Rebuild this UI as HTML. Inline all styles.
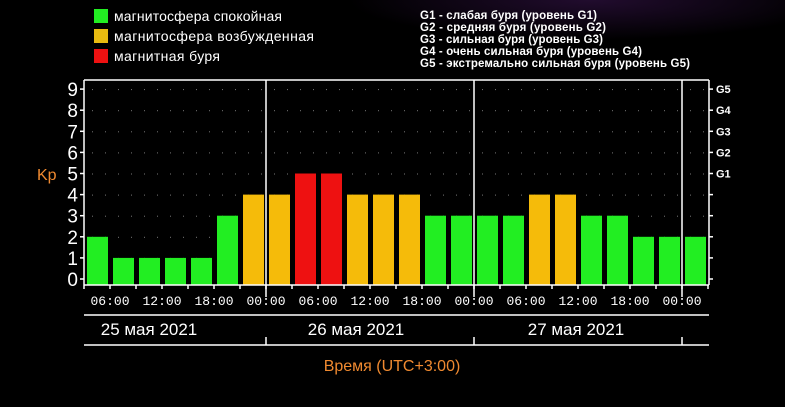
<!DOCTYPE html>
<html><head><meta charset="utf-8"><style>
html,body{margin:0;padding:0;background:#000;width:785px;height:407px;overflow:hidden}
text{font-family:"Liberation Sans","DejaVu Sans",sans-serif}
text.mono{font-family:"Liberation Mono","DejaVu Sans Mono",monospace}
</style></head><body>
<svg id="chart" width="785" height="407" viewBox="0 0 785 407">
<defs><radialGradient id="glow" cx="0.6" cy="0" r="0.5"><stop offset="0" stop-color="#2a0f3a"/><stop offset="1" stop-color="#000"/></radialGradient></defs>
<rect width="785" height="407" fill="#000"/>
<rect x="300" y="0" width="485" height="80" fill="url(#glow)" opacity="0.8"/>
<g>
<rect x="94" y="9" width="14" height="14" fill="#22ee22"/>
<text x="114" y="21" fill="#fff" font-size="14" textLength="168">магнитосфера спокойная</text>
<rect x="94" y="29" width="14" height="14" fill="#e8bb10"/>
<text x="114" y="41" fill="#fff" font-size="14" textLength="200">магнитосфера возбужденная</text>
<rect x="94" y="49" width="14" height="14" fill="#ee1111"/>
<text x="114" y="61" fill="#fff" font-size="14" textLength="106">магнитная буря</text>
</g>
<g fill="#fff" font-size="11.5" font-weight="bold">
<text x="420" y="19" textLength="177">G1 - слабая буря (уровень G1)</text>
<text x="420" y="31" textLength="186">G2 - средняя буря (уровень G2)</text>
<text x="420" y="43" textLength="183">G3 - сильная буря (уровень G3)</text>
<text x="420" y="55" textLength="222">G4 - очень сильная буря (уровень G4)</text>
<text x="420" y="67" textLength="270">G5 - экстремально сильная буря (уровень G5)</text>
</g>
<g id="grid"></g>
<g id="bars"></g>
<g id="axes"></g>
<text x="37" y="180" fill="#f08a30" font-size="16">Kp</text>
<text x="392" y="371" fill="#f08a30" font-size="16" text-anchor="middle">Время (UTC+3:00)</text>
</svg>
<script>
const kpValues=[2,1,1,1,1,3,4,4,5,5,4,4,4,3,3,3,3,4,4,3,3,2,2,2];
const yTicks=[0,1,2,3,4,5,6,7,8,9];
const gLabels=["G1","G2","G3","G4","G5"];
const timeLabels=["06:00","12:00","18:00","00:00","06:00","12:00","18:00","00:00","06:00","12:00","18:00","00:00"];
const dayLabels=["25 мая 2021","26 мая 2021","27 мая 2021"];
const NS="http://www.w3.org/2000/svg";
const X0=84,SLOT=26,Y0=279,UNIT=21.1,BASE=285,TOP=80,RIGHT=709;
const xOf=i=>X0+i*SLOT;
const yOf=v=>Y0-v*UNIT;
function mk(tag,attrs,parent){const e=document.createElementNS(NS,tag);for(const k in attrs)e.setAttribute(k,attrs[k]);parent.appendChild(e);return e;}
const grid=document.getElementById('grid'),bars=document.getElementById('bars'),axes=document.getElementById('axes');
const col=v=>v>=5?'#ee1111':(v===4?'#f5bb0a':'#22ee22');
for(const t of yTicks){if(t===0)continue;for(let x=X0+8;x<RIGHT;x+=13){const d=mk('rect',{x:x,y:yOf(t),width:1,height:1,fill:'#777'},grid);

}}
kpValues.forEach((v,i)=>{const r=mk('rect',{x:xOf(i)+3,y:yOf(v),width:21,height:BASE-yOf(v),fill:col(v)},bars);

});
const L=(x1,y1,x2,y2,n)=>{const l=mk('line',{x1,y1,x2,y2,stroke:'#fff','stroke-width':1.5},axes);

};
L(X0,TOP,RIGHT,TOP,'plot-top-border');L(X0,TOP,X0,BASE,'y-axis-line');L(RIGHT,TOP,RIGHT,BASE,'right-axis-line');L(X0,BASE,RIGHT,BASE,'x-axis-line');
for(let d=1;d<=3;d++){const x=xOf(d*8-1);L(x,TOP,x,BASE,'day-divider');L(x,BASE,x,297,'day-divider-tick');L(x,337,x,345,'day-divider-band');}
for(let i=0;i<=24;i++)L(xOf(i),BASE,xOf(i),BASE+4,'x-tick');
for(const t of yTicks){L(X0-4,yOf(t),X0,yOf(t),'y-tick');L(RIGHT,yOf(t),RIGHT+4,yOf(t),'y-tick-right');
const tx=mk('text',{x:X0-6,y:yOf(t)+7,fill:'#fff','font-size':19,'text-anchor':'end'},axes);tx.textContent=t;

}
gLabels.forEach((g,i)=>{const tx=mk('text',{x:716,y:yOf(5+i)+4,fill:'#fff','font-size':11,'font-weight':'bold'},axes);tx.textContent=g;

});
timeLabels.forEach((s,i)=>{const tx=mk('text',{x:xOf(1+2*i),y:305,fill:'#fff','font-size':13,'class':'mono','text-anchor':'middle'},axes);tx.textContent=s;

});
L(X0,315,RIGHT,315,'date-band-top');L(X0,345,RIGHT,345,'date-band-bottom');
dayLabels.forEach((s,i)=>{const tx=mk('text',{x:[149,356,576][i],y:335,fill:'#fff','font-size':17,'text-anchor':'middle'},axes);tx.textContent=s;

});
</script>
</body></html>
